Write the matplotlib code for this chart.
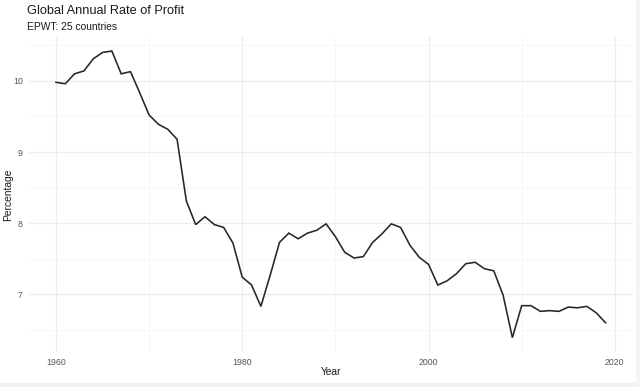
import matplotlib
matplotlib.use("Agg")
import matplotlib.pyplot as plt
from matplotlib.patches import Rectangle

years = list(range(1960, 2020))
rate = [9.98, 9.96, 10.10, 10.14, 10.31, 10.40, 10.42, 10.10, 10.13, 9.83,
        9.52, 9.39, 9.32, 9.18, 8.31, 7.98, 8.09, 7.98, 7.94, 7.72,
        7.24, 7.13, 6.83, 7.27, 7.73, 7.86, 7.78, 7.86, 7.90, 7.99,
        7.81, 7.59, 7.51, 7.53, 7.73, 7.85, 7.99, 7.94, 7.69, 7.52,
        7.42, 7.13, 7.19, 7.29, 7.43, 7.45, 7.36, 7.33, 6.99, 6.39,
        6.84, 6.84, 6.76, 6.77, 6.76, 6.82, 6.81, 6.83, 6.74, 6.60]

x_ticks = [1960, 1980, 2000, 2020]
x_minor = [1970, 1990, 2010]
y_ticks = [7, 8, 9, 10]
y_minor = [6.5, 7.5, 8.5, 9.5, 10.5]

title = "Global Annual Rate of Profit"
subtitle = "EPWT: 25 countries"
xlabel = "Year"
ylabel = "Percentage"

plt.rcParams['font.family'] = ['Liberation Sans', 'DejaVu Sans']

fig = plt.figure(figsize=(6.4, 3.87), dpi=100)
ax = fig.add_axes([28.5/640, 1-352/387, (633-28.5)/640, (352-36.7)/387])

ax.plot(years, rate, color="#262626", lw=1.15, solid_joinstyle="miter", zorder=3)

x0, x1 = min(years), max(years)
xr = x1 - x0
ax.set_xlim(x0 - 0.05*xr, x1 + 0.05*xr)
y0, y1 = min(rate), max(rate)
yr = y1 - y0
ax.set_ylim(y0 - 0.05*yr, y1 + 0.05*yr)

ax.set_xticks(x_ticks)
ax.set_xticks(x_minor, minor=True)
ax.set_yticks(y_ticks)
ax.set_yticks(y_minor, minor=True)
ax.grid(True, which="major", color="#ededed", lw=0.9)
ax.grid(True, which="minor", color="#f5f5f5", lw=0.6)
ax.set_axisbelow(True)
for s in ax.spines.values():
    s.set_visible(False)
ax.tick_params(which="both", length=0)
ax.tick_params(axis="x", labelsize=6.3, colors="#555555", pad=4.5)
ax.tick_params(axis="y", labelsize=6.3, colors="#555555", pad=4)

fig.text(27/640, 1-14.5/387, title, fontsize=9.2, color="#1a1a1a", ha="left", va="baseline")
fig.text(27/640, 1-29.5/387, subtitle, fontsize=7.4, color="#1a1a1a", ha="left", va="baseline")
fig.text(330.7/640, 1-375/387, xlabel, fontsize=7.4, color="#1a1a1a", ha="center", va="baseline")
fig.text(8.5/640, 1-195/387, ylabel, fontsize=7.4, color="#1a1a1a", ha="center", va="center", rotation=90)

# light screenshot border
fig.patches.append(Rectangle((0, 0), 1, 4/387, transform=fig.transFigure, color="#eef2f6", zorder=0))
fig.patches.append(Rectangle((636/640, 0), 4/640, 1, transform=fig.transFigure, color="#f3f5f8", zorder=0))

fig.savefig("out.png", dpi=100)
